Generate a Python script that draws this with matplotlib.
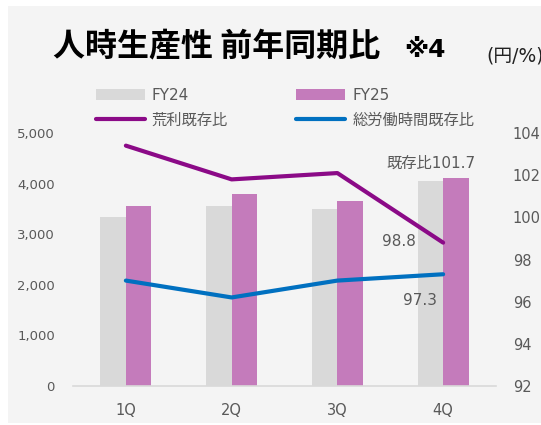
import matplotlib
matplotlib.use("Agg")
import matplotlib.pyplot as plt
import numpy as np
from matplotlib.patches import Rectangle
from matplotlib.ticker import FuncFormatter

plt.rcParams["font.family"] = ["DejaVu Sans", "Noto Sans CJK JP"]

quarters = ["1Q", "2Q", "3Q", "4Q"]
fy24 = [3340, 3560, 3500, 4050]
fy25 = [3560, 3790, 3650, 4110]
gross_ratio = [103.4, 101.8, 102.1, 98.8]
hours_ratio = [97.0, 96.2, 97.0, 97.3]
label_total = "既存比101.7"
label_gross = "98.8"
label_hours = "97.3"

c_fy24 = "#D9D9D9"
c_fy25 = "#C47BBB"
c_gross = "#8B0A87"
c_hours = "#0070C0"
c_text = "#595959"

fig = plt.figure(figsize=(5.41, 4.25), dpi=100)
fig.patches.append(Rectangle((8 / 541, 2 / 425), 1, 1 - 8 / 425, transform=fig.transFigure,
                             fc="#F4F4F4", ec="none", zorder=-10))

ax = fig.add_axes([73 / 541, 1 - 386 / 425, 423 / 541, 253 / 425])
ax.set_facecolor("none")
x = np.arange(len(quarters))
w = 0.24
b1 = ax.bar(x - w / 2, fy24, w, color=c_fy24, label="FY24")
b2 = ax.bar(x + w / 2, fy25, w, color=c_fy25, label="FY25")
ax.set_xlim(-0.5, 3.5)
ax.set_ylim(0, 5000)
ax.set_yticks(range(0, 5001, 1000))
ax.yaxis.set_major_formatter(FuncFormatter(lambda v, p: f"{int(v):,}"))
ax.set_xticks(x)
ax.set_xticklabels(quarters)
for s in ["top", "left", "right"]:
    ax.spines[s].set_visible(False)
ax.spines["bottom"].set_color(c_fy24)
ax.spines["bottom"].set_linewidth(1.2)
ax.tick_params(axis="y", length=0, pad=13, labelsize=9.5, labelcolor=c_text)
ax.tick_params(axis="x", length=0, pad=12, labelsize=10.5, labelcolor=c_text)

ax2 = ax.twinx()
ln1, = ax2.plot(x, gross_ratio, color=c_gross, lw=3, label="荒利既存比", solid_capstyle="round")
ln2, = ax2.plot(x, hours_ratio, color=c_hours, lw=3, label="総労働時間既存比", solid_capstyle="round")
ax2.set_ylim(92, 104)
ax2.set_yticks(range(92, 105, 2))
for s in ax2.spines.values():
    s.set_visible(False)
ax2.tick_params(axis="y", length=0, pad=12, labelsize=10.5, labelcolor=c_text)

ax2.annotate(label_gross, (x[3], gross_ratio[3]), xytext=(-32, 1), textcoords="offset points",
             ha="center", va="center", fontsize=11, color=c_text)
ax2.annotate(label_hours, (x[3], hours_ratio[3]), xytext=(-17, -19), textcoords="offset points",
             ha="center", va="center", fontsize=11, color=c_text)
ax.annotate(label_total, (x[3] + w / 2, fy25[3]), xytext=(-18, 11), textcoords="offset points",
            ha="center", va="center", fontsize=11, color=c_text)

fig.legend([b1, ln1, b2, ln2], ["FY24", "荒利既存比", "FY25", "総労働時間既存比"],
           ncol=2, loc="upper left", bbox_to_anchor=(88 / 541, 1 - 80 / 425),
           frameon=False, fontsize=11, handlelength=3.2, handletextpad=0.45,
           columnspacing=4.5, labelspacing=0.65, labelcolor=c_text, borderpad=0)

fig.text(53 / 541, 1 - 55 / 425, "人時生産性 前年同期比", fontsize=23, fontweight="bold",
         family="Noto Sans CJK JP", va="baseline")
fig.text(404 / 541, 1 - 57 / 425, "※4", fontsize=18, fontweight="bold",
         family=["DejaVu Sans", "Noto Sans CJK JP"], va="baseline")
fig.text(486 / 541, 1 - 61 / 425, "(円/%)", fontsize=13.5, color="#222222",
         family=["DejaVu Sans", "Noto Sans CJK JP"], va="baseline")

fig.savefig("out.png", dpi=100)
